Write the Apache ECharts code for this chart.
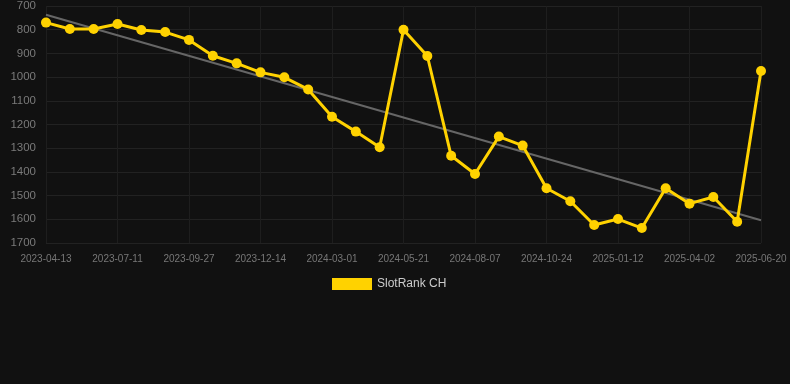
<!DOCTYPE html>
<html><head><meta charset="utf-8">
<script src="https://cdn.jsdelivr.net/npm/echarts@6/dist/echarts.min.js"></script>
<style>html,body{margin:0;padding:0;background:#111111;}#c{width:790px;height:384px;}</style>
</head><body><div id="c"></div>
<script>
var categories = ['2023-04-13','2023-05-12','2023-06-11','2023-07-11','2023-08-06','2023-09-01','2023-09-27','2023-10-23','2023-11-18','2023-12-14','2024-01-09','2024-02-04','2024-03-01','2024-03-28','2024-04-24','2024-05-21','2024-06-16','2024-07-12','2024-08-07','2024-09-02','2024-09-28','2024-10-24','2024-11-20','2024-12-16','2025-01-12','2025-02-07','2025-03-05','2025-04-02','2025-04-28','2025-05-24','2025-06-20'];
var rankValues = [770,797,797,776,801,810,843,910,942,980,1001,1052,1167,1230,1296,800,911,1332,1409,1251,1289,1469,1524,1624,1599,1637,1469,1534,1506,1610,974];
var trendStart = 737;
var trendEnd = 1604;
var seriesName = 'SlotRank CH';

var trend = categories.map(function(c,i){ return i===0 ? trendStart : (i===categories.length-1 ? trendEnd : null); });

var chart = echarts.init(document.getElementById('c'));
chart.setOption({
  backgroundColor:'#111111',
  animation:false,
  textStyle:{fontFamily:'Liberation Sans, Arial, sans-serif'},
  grid:{left:46,right:29,top:6,bottom:141,containLabel:false},
  legend:{
    data:[{name:seriesName,icon:'rect'}],
    top:273,left:327,itemWidth:40,itemHeight:12,itemGap:10,
    textStyle:{color:'#cccccc',fontSize:12}
  },
  xAxis:{
    type:'category',data:categories,boundaryGap:false,
    axisLine:{show:false},axisTick:{show:false},
    axisLabel:{interval:2,color:'#777777',fontSize:10,margin:11},
    splitLine:{show:true,interval:2,lineStyle:{color:'#1e1e1e',width:1}}
  },
  yAxis:{
    type:'value',inverse:true,min:700,max:1700,interval:100,
    axisLine:{show:false},axisTick:{show:false},
    axisLabel:{color:'#7a7a7a',fontSize:11.5,margin:10,formatter:function(v){return String(v);}},
    splitLine:{show:true,lineStyle:{color:'#222222',width:1}}
  },
  series:[
    {name:'trend',type:'line',data:trend,connectNulls:true,symbol:'none',
     lineStyle:{color:'#666666',width:2},z:1,silent:true},
    {name:seriesName,type:'line',data:rankValues,symbol:'circle',symbolSize:10,
     itemStyle:{color:'#FFD200'},lineStyle:{color:'#FFD200',width:3},z:2}
  ]
});
</script></body></html>
